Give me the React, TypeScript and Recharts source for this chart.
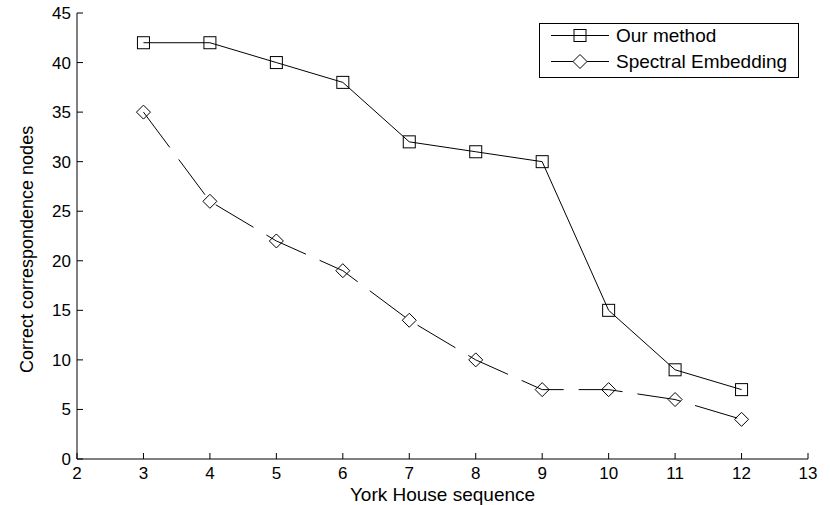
import React from "react";
import { LineChart, Line, XAxis, YAxis, Legend } from "recharts";

const sequences = [3, 4, 5, 6, 7, 8, 9, 10, 11, 12];
const ourMethod = [42, 42, 40, 38, 32, 31, 30, 15, 9, 7];
const spectralEmbedding = [35, 26, 22, 19, 14, 10, 7, 7, 6, 4];
const xTicks = [2, 3, 4, 5, 6, 7, 8, 9, 10, 11, 12, 13];
const yTicks = [0, 5, 10, 15, 20, 25, 30, 35, 40, 45];

const data = sequences.map((s, i) => ({
  seq: s,
  our: ourMethod[i],
  spectral: spectralEmbedding[i],
}));

const FONT = "'Liberation Sans', Arial, Helvetica, sans-serif";
const TICK_LEN = 6;

const BottomTick = (props: any) => {
  const { x, y, payload } = props;
  return (
    <g>
      <line x1={x} x2={x} y1={y} y2={y - TICK_LEN} stroke="#000" />
      <text x={x} y={y + 20} textAnchor="middle" fontSize={17} fontFamily={FONT} fill="#000">
        {payload.value}
      </text>
    </g>
  );
};

const TopTick = (props: any) => {
  const { x, y } = props;
  return <line x1={x} x2={x} y1={y} y2={y + TICK_LEN} stroke="#000" />;
};

const LeftTick = (props: any) => {
  const { x, y, payload } = props;
  return (
    <g>
      <line x1={x} x2={x + TICK_LEN} y1={y} y2={y} stroke="#000" />
      <text x={x - 6} y={y + 6} textAnchor="end" fontSize={17} fontFamily={FONT} fill="#000">
        {payload.value}
      </text>
    </g>
  );
};

const RightTick = (props: any) => {
  const { x, y } = props;
  return <line x1={x} x2={x - TICK_LEN} y1={y} y2={y} stroke="#000" />;
};

const SquareDot = (props: any) => {
  const { cx, cy, index } = props;
  if (cx == null || cy == null) return <g key={index} />;
  return <rect key={index} x={cx - 6} y={cy - 6} width={12} height={12} fill="none" stroke="#000" />;
};

const DiamondDot = (props: any) => {
  const { cx, cy, index } = props;
  if (cx == null || cy == null) return <g key={index} />;
  const r = 7;
  return (
    <polygon
      key={index}
      points={`${cx},${cy - r} ${cx + r},${cy} ${cx},${cy + r} ${cx - r},${cy}`}
      fill="none"
      stroke="#000"
    />
  );
};

const LegendBox = () => (
  <svg width={262} height={56} style={{ display: "block" }}>
    <rect x={0.5} y={0.5} width={259} height={54} fill="#fff" stroke="#000" />
    <line x1={12} x2={70} y1={12.5} y2={12.5} stroke="#000" />
    <rect x={35} y={6.5} width={12} height={12} fill="none" stroke="#000" />
    <text x={77} y={19} fontSize={19} fontFamily={FONT} fill="#000">Our method</text>
    <line x1={12} x2={70} y1={38.5} y2={38.5} stroke="#000" />
    <polygon points="41,31.5 48,38.5 41,45.5 34,38.5" fill="#fff" stroke="#000" />
    <text x={77} y={45} fontSize={19} fontFamily={FONT} fill="#000">Spectral Embedding</text>
  </svg>
);

export default function App() {
  return (
    <div style={{ position: "absolute", left: 0, top: 0, width: 830, height: 505, background: "#fff" }}>
      <LineChart width={830} height={505} data={data} margin={{ top: 13, right: 22, left: 0, bottom: 0 }}>
        <XAxis
          xAxisId="b"
          dataKey="seq"
          type="number"
          domain={[2, 13]}
          ticks={xTicks}
          interval={0}
          height={46}
          tickSize={0}
          tickMargin={0}
          tickLine={false}
          axisLine={{ stroke: "#000" }}
          tick={<BottomTick />}
          label={{ value: "York House sequence", position: "insideBottom", offset: 4, fontSize: 19, fontFamily: FONT, fill: "#000" }}
        />
        <XAxis
          xAxisId="t"
          orientation="top"
          dataKey="seq"
          type="number"
          domain={[2, 13]}
          ticks={xTicks}
          interval={0}
          height={0}
          tickSize={0}
          tickMargin={0}
          tickLine={false}
          axisLine={{ stroke: "#000" }}
          tick={<TopTick />}
        />
        <YAxis
          yAxisId="l"
          type="number"
          domain={[0, 45]}
          ticks={yTicks}
          interval={0}
          width={77}
          tickSize={0}
          tickMargin={0}
          tickLine={false}
          axisLine={{ stroke: "#000" }}
          tick={<LeftTick />}
          label={{ value: "Correct correspondence nodes", angle: -90, position: "insideLeft", offset: 27, dy: 137, fontSize: 18, fontFamily: FONT, fill: "#000" }}
        />
        <YAxis
          yAxisId="r"
          orientation="right"
          type="number"
          domain={[0, 45]}
          ticks={yTicks}
          interval={0}
          width={0}
          tickSize={0}
          tickMargin={0}
          tickLine={false}
          axisLine={{ stroke: "#000" }}
          tick={<RightTick />}
        />
        <Legend
          layout="horizontal"
          verticalAlign="middle"
          align="center"
          wrapperStyle={{ position: "absolute", left: 539, top: 23, width: 262, height: 56 }}
          content={() => <LegendBox />}
        />
        <Line
          xAxisId="b"
          yAxisId="l"
          type="linear"
          dataKey="our"
          name="Our method"
          stroke="#000"
          strokeWidth={1}
          dot={<SquareDot />}
          activeDot={false}
          isAnimationActive={false}
        />
        <Line
          xAxisId="b"
          yAxisId="l"
          type="linear"
          dataKey="spectral"
          name="Spectral Embedding"
          stroke="#000"
          strokeWidth={1}
          strokeDasharray="44 15"
          dot={<DiamondDot />}
          activeDot={false}
          isAnimationActive={false}
        />
      </LineChart>
    </div>
  );
}
